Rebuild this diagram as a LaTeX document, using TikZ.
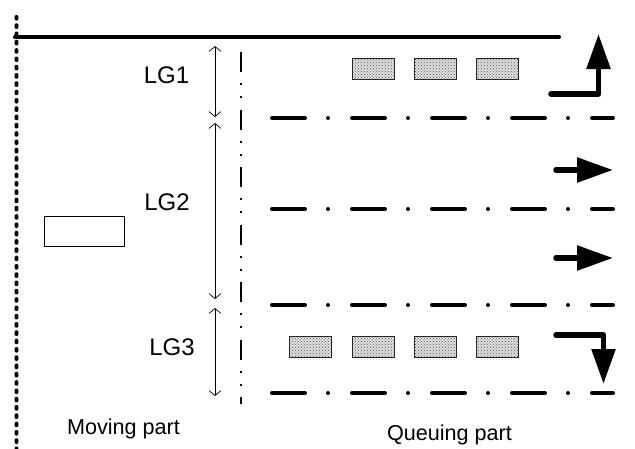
\documentclass[tikz,border=0pt]{standalone}
\usepackage{fontspec}
\setmainfont{Liberation Sans}
\usetikzlibrary{arrows.meta,patterns}
\begin{document}
\begin{tikzpicture}[x=1pt,y=-1pt,
  lane/.style={line width=4pt,line cap=round,dash pattern=on 33pt off 23pt on 0pt off 24pt},
  sepline/.style={line width=2.4pt,dash pattern=on 20pt off 11pt on 2pt off 11pt on 2pt off 11.5pt},
  edgedot/.style={fill=black,rounded corners=1.2pt},
  dim/.style={line width=0.7pt,{Straight Barb[length=5pt,width=12pt]}-{Straight Barb[length=5pt,width=12pt]}},
  flow/.style={line width=5.5pt,line cap=round,line join=round,-{Triangle[width=23pt,length=35pt]}},
  flowh/.style={line width=5.5pt,line cap=round,-{Triangle[width=24pt,length=36pt]}},
  qbox/.style={draw=black!85,line width=1pt,minimum width=42pt,minimum height=21pt,inner sep=0pt,
    preaction={fill=gray!25},pattern=crosshatch dots,pattern color=black!65},
  vbox/.style={draw,line width=0.8pt,minimum width=80pt,minimum height=30pt,inner sep=0pt},
  lg/.style={font=\fontsize{24}{28}\selectfont,inner sep=0pt},
  part/.style={font=\fontsize{21.6}{26}\selectfont,inner sep=0pt,anchor=base}
]
\useasboundingbox (0,0) rectangle (635,448);

% left border (thick dotted) and top wall
\foreach \i in {0,...,52}{
  \fill[edgedot] (14.6,15+8.3*\i) rectangle (18.4,20.5+8.3*\i);
}
\coordinate (wl) at (15,37);
\coordinate (wr) at (559,37);
\draw[line width=4pt,line cap=round] (wl) -- (wr);

% separator between moving and queuing parts
\coordinate (st) at (241,52);
\coordinate (sb) at (241,404);
\draw[sepline] (st) -- (sb);

% lane lines
\foreach \y/\n in {118/a,209/b,305/c,393/d}{
  \coordinate (l\n s) at (272,\y);
  \coordinate (l\n e) at (613,\y);
  \draw[lane] (l\n s) -- (l\n e);
}

% dimension arrows
\coordinate (g1a) at (215,46);  \coordinate (g1b) at (215,117);
\coordinate (g2a) at (215,123); \coordinate (g2b) at (215,299);
\coordinate (g3a) at (215,308); \coordinate (g3b) at (215,396);
\draw[dim] (g1a) -- (g1b);
\draw[dim] (g2a) -- (g2b);
\draw[dim] (g3a) -- (g3b);
\node[lg] (lg1) at (166.5,75.5) {LG1};
\node[lg] (lg2) at (167,202) {LG2};
\node[lg] (lg3) at (172,347.5) {LG3};

% vehicles
\node[vbox] (mv) at (84,231) {};
\node[qbox] (q1) at (373,68.5) {};
\node[qbox] (q2) at (435,68.5) {};
\node[qbox] (q3) at (497,68.5) {};
\node[qbox] (q4) at (310,346.5) {};
\node[qbox] (q5) at (373,346.5) {};
\node[qbox] (q6) at (435,346.5) {};
\node[qbox] (q7) at (497,346.5) {};

% movement arrows
\coordinate (t1s) at (551,94);  \coordinate (t1c) at (598.5,94);  \coordinate (t1e) at (598.5,34);
\draw[flow] (t1s) -- (t1c) -- (t1e);
\coordinate (m1s) at (556,170); \coordinate (m1e) at (613,170);
\draw[flowh] (m1s) -- (m1e);
\coordinate (m2s) at (556,258); \coordinate (m2e) at (613,258);
\draw[flowh] (m2s) -- (m2e);
\coordinate (t2s) at (556,335); \coordinate (t2c) at (603.5,335); \coordinate (t2e) at (603.5,384);
\draw[flow] (t2s) -- (t2c) -- (t2e);

% captions
\node[part] (mp) at (123.5,434) {Moving part};
\node[part] (qp) at (449.5,440.5) {Queuing part};
\end{tikzpicture}
\end{document}
